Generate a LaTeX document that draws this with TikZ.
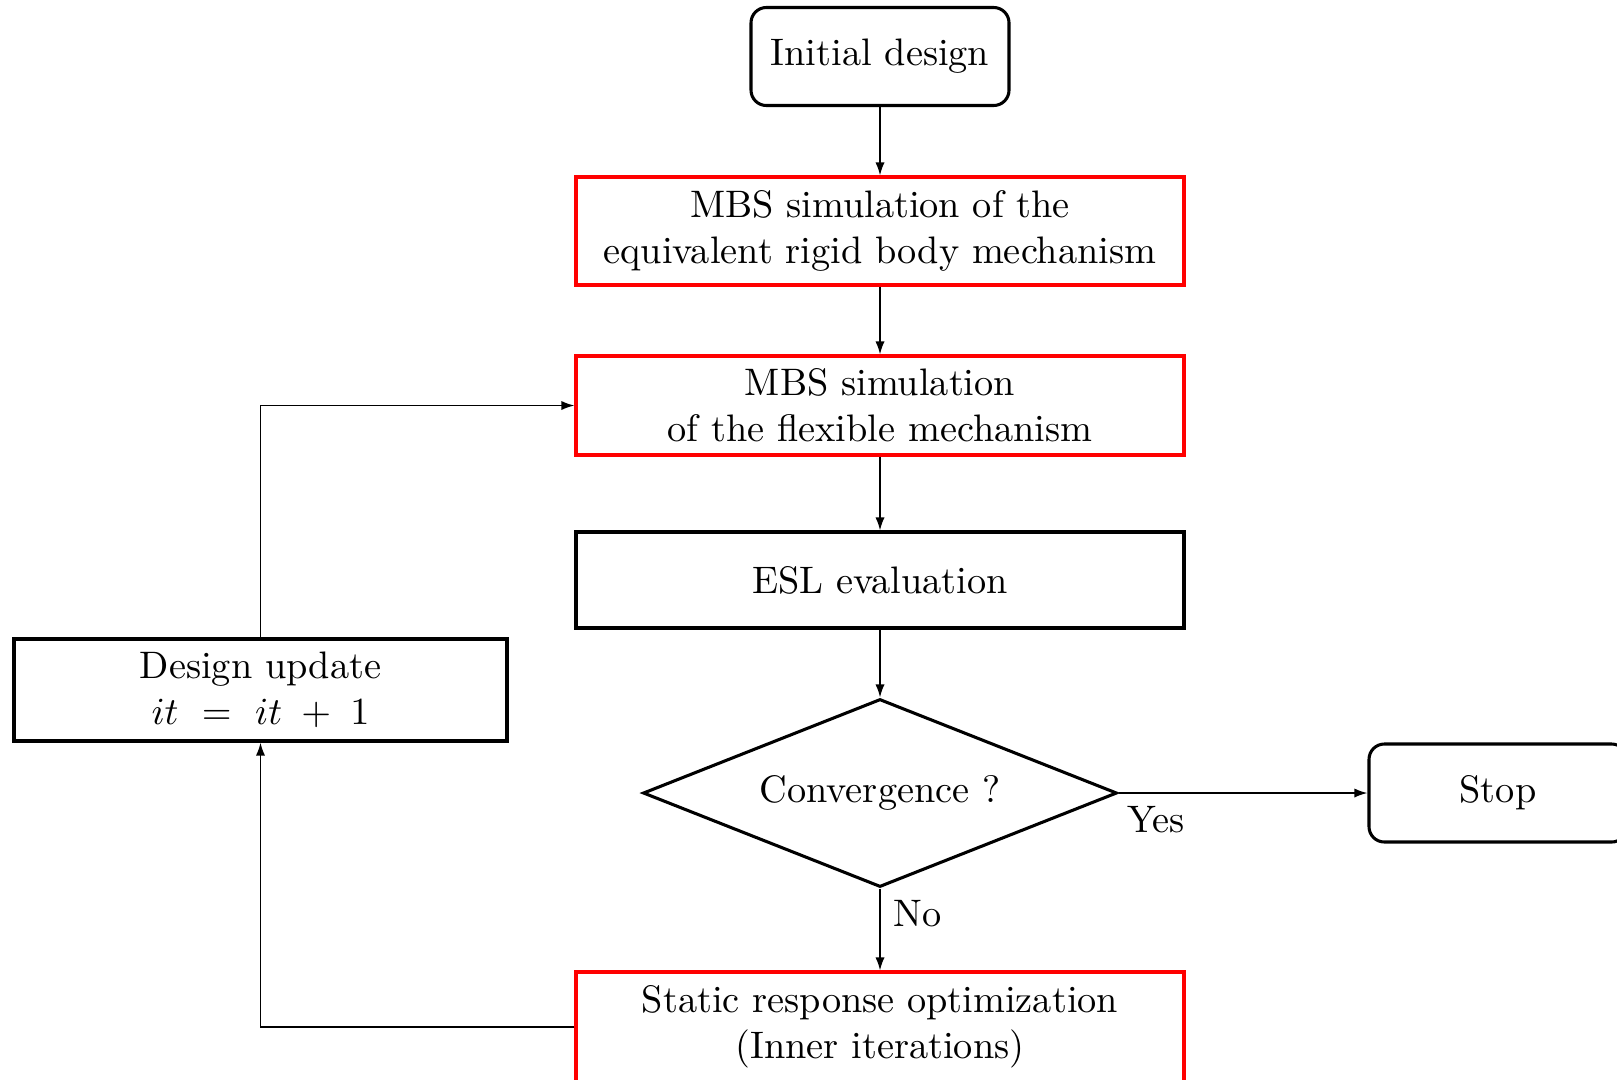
\documentclass[tikz,border=0pt]{standalone}
\usetikzlibrary{shapes.geometric,arrows.meta}
\begin{document}
\begin{tikzpicture}[x=0.261pt,y=-0.261pt,
  box/.style={draw, line width=0.8pt, inner sep=0pt, align=center,
    minimum width=608*0.261pt},
  redbox/.style={box, draw=red},
  term/.style={box, rounded corners=4pt, minimum width=258*0.261pt,
    minimum height=98*0.261pt},
  decision/.style={diamond, draw, line width=0.8pt, inner sep=0pt,
    aspect=2.52, minimum width=474*0.261pt, minimum height=188*0.261pt},
  link/.style={line width=0.45pt, -{Latex[length=3.4pt,width=2.4pt]}}]
  % page frame
  \path[clip, use as bounding box] (0,0) rectangle (1617,1079);

  % process steps
  \node[term] (init) at (880,56.5) {Initial design};
  \node[redbox, minimum height=108*0.261pt] (rigid) at (880,231)
    {MBS simulation of the\\equivalent rigid body mechanism};
  \node[redbox, minimum height=99*0.261pt] (flex) at (880,405.5)
    {MBS simulation\\of the flexible mechanism};
  \node[box, minimum height=96*0.261pt] (esl) at (880,580) {ESL evaluation};
  \node[decision] (conv) at (880,793) {Convergence ?};
  \node[term] (stop) at (1498,793) {Stop};
  \node[redbox, minimum height=110*0.261pt] (opt) at (880,1027)
    {Static response optimization\\(Inner iterations)};
  \node[box, minimum width=493*0.261pt, minimum height=102*0.261pt] (upd)
    at (260.5,690) {Design update\\$it~=~it\;+\;1$};

  % connectors
  \draw[link] (init) -- (rigid);
  \draw[link] (rigid) -- (flex);
  \draw[link] (flex) -- (esl);
  \draw[link] (esl) -- (conv);
  \draw[link] (conv) -- node[pos=0.3, right] {No} (opt);
  \draw[link] (conv.east) -- node[pos=0.15, below] {Yes} (stop.west);
  \draw[link] (opt.west) -| (upd.south);
  \draw[link] (upd.north) |- (flex.west);
\end{tikzpicture}
\end{document}
